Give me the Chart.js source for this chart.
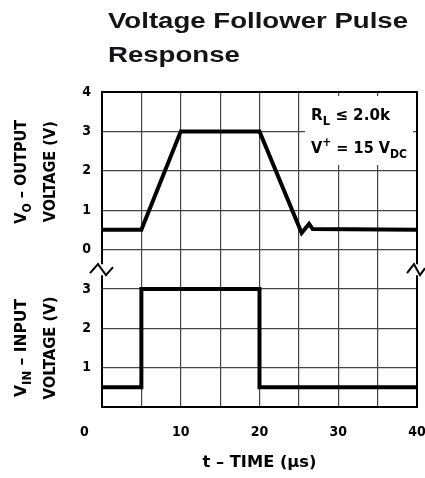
<!DOCTYPE html>
<html>
<head>
<meta charset="utf-8">
<script src="https://cdn.jsdelivr.net/npm/chart.js@4.4.1/dist/chart.umd.min.js"></script>
<style>
  html, body { margin: 0; padding: 0; background: #fff; }
  .chart-container { position: relative; width: 425px; height: 478px; }
</style>
</head>
<body>
<div class="chart-container"><canvas id="myChart"></canvas></div>
<script>
// valores
const outTime = [0, 5, 10, 20, 25.35, 26.3, 26.75, 40];
const outVolt = [0.5, 0.5, 3, 3, 0.42, 0.65, 0.52, 0.5];
const inTime = [0, 5, 5, 20, 20, 40];
const inVolt = [0.5, 0.5, 3, 3, 0.5, 0.5];
const timeTicks = [0, 5, 10, 15, 20, 25, 30, 35, 40];
const timeTickLabels = ['0        ', '', '10', '', '20', '', '30', '', '40'];
const outTicks = [0, 1, 2, 3, 4];
const inTicks = [1, 2, 3];

const FAM = '"DejaVu Sans Condensed", "DejaVu Sans", sans-serif';
const GRID = '#444';

// texto com subscrito / sobrescrito, comprimido para a largura pedida
function drawRich(ctx, parts, x, y, size, width, family) {
  const fam = family || FAM;
  const big = 'bold ' + size + 'px ' + fam;
  const small = 'bold ' + Math.round(size * 0.72) + 'px ' + fam;
  let w = 0;
  parts.forEach(p => {
    ctx.font = (p.sub || p.sup) ? small : big;
    p.w = ctx.measureText(p.t).width;
    w += p.w;
  });
  const sx = width ? width / w : 1;
  ctx.save();
  ctx.translate(x, y);
  ctx.scale(sx, 1);
  ctx.textAlign = 'left';
  ctx.textBaseline = 'alphabetic';
  let cx = 0;
  parts.forEach(p => {
    ctx.font = (p.sub || p.sup) ? small : big;
    const dy = p.sub ? size * 0.3 : (p.sup ? -size * 0.42 : 0);
    ctx.fillText(p.t, cx, dy);
    cx += p.w;
  });
  ctx.restore();
  return sx;
}

function drawRotated(ctx, parts, bx, cy, size, width) {
  ctx.save();
  ctx.translate(bx, cy);
  ctx.rotate(-Math.PI / 2);
  drawRich(ctx, parts, -width / 2, 0, size, width);
  ctx.restore();
}

const decor = {
  id: 'decor',
  beforeDatasetsDraw(chart) {
    const ctx = chart.ctx;
    const a = chart.chartArea;
    // fundo branco da anotação
    ctx.save();
    ctx.fillStyle = '#fff';
    ctx.fillRect(a.right - 112, a.top + 4, 108, 69);
    ctx.restore();
  },
  afterDraw(chart) {
    const ctx = chart.ctx;
    const a = chart.chartArea;
    const L = a.left, R = a.right, T = a.top, B = a.bottom;
    const brk = chart.scales.yTop.bottom;

    ctx.save();
    ctx.strokeStyle = '#000';
    ctx.lineWidth = 2;
    ctx.lineJoin = 'miter';
    ctx.beginPath();
    ctx.moveTo(L, brk - 5);
    ctx.lineTo(L, T);
    ctx.lineTo(R, T);
    ctx.lineTo(R, brk - 5);
    ctx.moveTo(L, brk + 6);
    ctx.lineTo(L, B);
    ctx.lineTo(R, B);
    ctx.lineTo(R, brk + 6);
    // quebras
    ctx.moveTo(L - 12, brk + 4);
    ctx.lineTo(L - 4, brk - 5);
    ctx.lineTo(L + 4, brk + 6);
    ctx.lineTo(L + 11, brk - 2);
    ctx.moveTo(R - 10, brk + 4);
    ctx.lineTo(R - 3, brk - 5);
    ctx.lineTo(R + 3, brk + 6);
    ctx.lineTo(R + 8, brk - 1);
    ctx.stroke();

    ctx.fillStyle = '#000';
    // anotação
    drawRich(ctx, [{t: 'R'}, {t: 'L', sub: true}, {t: ' \u2264 2.0k'}], R - 106, T + 28, 16, 79);
    drawRich(ctx, [{t: 'V'}, {t: '+', sup: true}, {t: ' = 15 V'}, {t: 'DC', sub: true}], R - 106, T + 61, 16, 96);

    // títulos dos eixos
    const yTop = chart.scales.yTop, yBot = chart.scales.yBot;
    const cTop = (yTop.getPixelForValue(4) + yTop.getPixelForValue(0)) / 2 + 1;
    const cBot = (yBot.getPixelForValue(3) + yBot.getPixelForValue(0)) / 2;
    drawRotated(ctx, [{t: 'V'}, {t: 'O', sub: true}, {t: ' \u2013 OUTPUT'}], 26, cTop, 16, 104);
    drawRotated(ctx, [{t: 'VOLTAGE (V)'}], 55, cTop, 16, 101);
    drawRotated(ctx, [{t: 'V'}, {t: 'IN', sub: true}, {t: ' \u2013 INPUT'}], 26, cBot, 16, 98);
    drawRotated(ctx, [{t: 'VOLTAGE (V)'}], 55, cBot, 16, 103);

    const xMid = (L + R) / 2;
    drawRich(ctx, [{t: 't \u2013 TIME (\u00b5s)'}], xMid - 57, 467, 15, 114);

    // título
    ctx.fillStyle = '#141418';
    const tf = '"Liberation Sans", Arial, sans-serif';
    const sx = drawRich(ctx, [{t: 'Voltage Follower Pulse'}], 108, 28, 22, 300, tf);
    ctx.font = 'bold 22px ' + tf;
    const w2 = ctx.measureText('Response').width * sx;
    drawRich(ctx, [{t: 'Response'}], 108, 62, 22, w2, tf);
    ctx.restore();
  }
};

const tickFont = { family: FAM, size: 14, weight: 'bold' };

const ctx = document.getElementById('myChart').getContext('2d');
new Chart(ctx, {
  type: 'line',
  data: {
    datasets: [
      {
        label: 'Output',
        data: outTime.map((t, i) => ({ x: t, y: outVolt[i] })),
        yAxisID: 'yTop',
        borderColor: '#000',
        borderWidth: 4,
        pointRadius: 0,
        tension: 0
      },
      {
        label: 'Input',
        data: inTime.map((t, i) => ({ x: t, y: inVolt[i] })),
        yAxisID: 'yBot',
        borderColor: '#000',
        borderWidth: 4,
        pointRadius: 0,
        tension: 0
      }
    ]
  },
  options: {
    responsive: true,
    maintainAspectRatio: false,
    animation: false,
    layout: { padding: { top: 92, right: 8, left: 0, bottom: 0 } },
    plugins: {
      legend: { display: false },
      title: { display: false },
      tooltip: { enabled: false }
    },
    scales: {
      x: {
        type: 'linear',
        min: 0,
        max: 40,
        afterBuildTicks: s => { s.ticks = timeTicks.map(v => ({ value: v })); },
        afterFit: s => { s.height = 71; s.paddingLeft = 0; s.paddingRight = 0; },
        ticks: {
          autoSkip: false,
          maxRotation: 0,
          padding: 17,
          color: '#000',
          font: tickFont,
          callback: (v) => timeTickLabels[timeTicks.indexOf(v)]
        },
        grid: {
          drawTicks: false,
          lineWidth: 1.2,
          color: c => (c.tick && (c.tick.value === 0 || c.tick.value === 40)) ? 'rgba(0,0,0,0)' : GRID
        },
        border: { display: false }
      },
      yTop: {
        type: 'linear',
        position: 'left',
        stack: 'volt',
        stackWeight: 4.5,
        weight: 1,
        min: -0.5,
        max: 4,
        afterBuildTicks: s => { s.ticks = outTicks.map(v => ({ value: v })); },
        afterFit: s => { s.width = 102; },
        ticks: { padding: 11, color: '#000', font: tickFont },
        grid: {
          drawTicks: false,
          lineWidth: 1.2,
          color: c => (c.tick && c.tick.value === 4) ? 'rgba(0,0,0,0)' : GRID
        },
        border: { display: false }
      },
      yBot: {
        type: 'linear',
        position: 'left',
        stack: 'volt',
        stackWeight: 3.5,
        weight: 0,
        min: 0,
        max: 3.5,
        afterBuildTicks: s => { s.ticks = inTicks.map(v => ({ value: v })); },
        afterFit: s => { s.width = 102; },
        ticks: { padding: 11, color: '#000', font: tickFont },
        grid: { drawTicks: false, lineWidth: 1.2, color: GRID },
        border: { display: false }
      }
    }
  },
  plugins: [decor]
});
</script>
</body>
</html>
